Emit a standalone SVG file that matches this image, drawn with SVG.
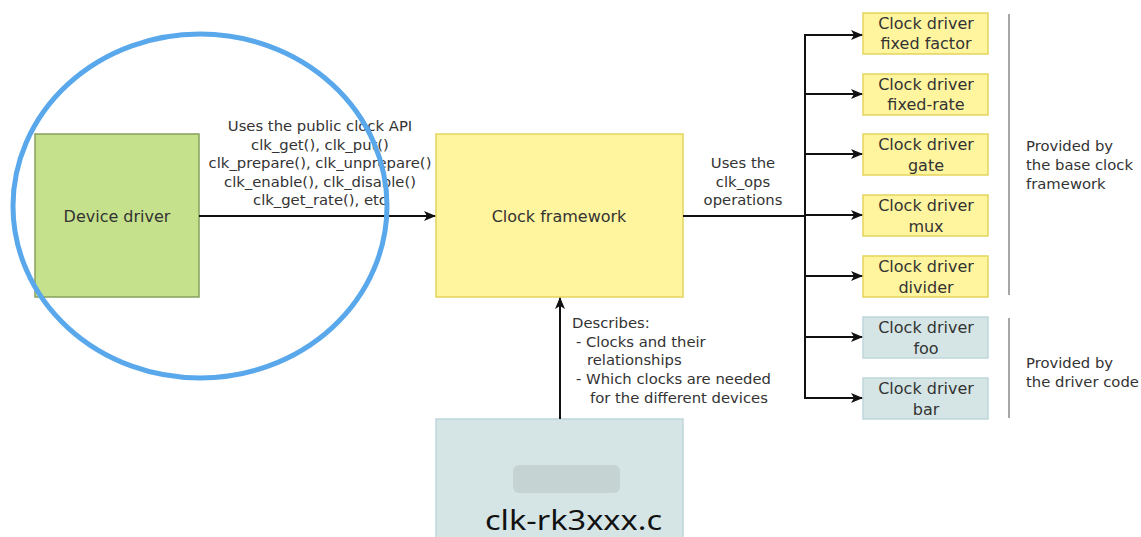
<svg xmlns="http://www.w3.org/2000/svg" width="1141" height="537" viewBox="0 0 1141 537">
<style>
text{font-family:"DejaVu Sans","Liberation Sans",sans-serif;fill:#333}
.lbl{font-size:14.8px}
.box{font-size:16px;text-anchor:middle}
.yel{fill:#fff59e;stroke:#e3d55c;stroke-width:1.5}
.blu{fill:#d5e5e6;stroke:#bfd6da;stroke-width:1.5}
.con{stroke:#111;stroke-width:2;fill:none}
.sep{stroke:#888;stroke-width:1.5}
</style>
<defs>
<marker id="ah" markerWidth="12" markerHeight="10" refX="11" refY="5" orient="auto" markerUnits="userSpaceOnUse">
<path d="M0,0 L12,5 L0,10 L3,5 z" fill="#111"/>
</marker>
</defs>
<rect width="1141" height="537" fill="#fff"/>

<g id="device-driver">
<rect x="35" y="134" width="164" height="163" fill="#c5e18b" stroke="#86a05c" stroke-width="1.5"/>
<text class="box" x="117" y="222">Device driver</text>
</g>

<g id="clock-framework">
<rect x="436" y="134" width="247" height="163" class="yel"/>
<text class="box" x="559" y="222">Clock framework</text>
</g>

<g id="clk-rk3xxx">
<rect x="436" y="419" width="247" height="130" class="blu"/>
<rect x="513" y="465" width="107" height="28" rx="6" fill="#c6d3d3"/>
<text x="485" y="530" style="font-family:'Noto Sans','Open Sans',sans-serif;font-size:28px;fill:#111" textLength="177" lengthAdjust="spacingAndGlyphs">clk-rk3xxx.c</text>
</g>

<g id="drv-fixed-factor">
<rect x="863" y="13" width="125" height="41" class="yel"/>
<text class="box" x="926" y="29">Clock driver</text>
<text class="box" x="926" y="49">fixed factor</text>
</g>
<g id="drv-fixed-rate">
<rect x="863" y="74" width="125" height="41" class="yel"/>
<text class="box" x="926" y="90">Clock driver</text>
<text class="box" x="926" y="110">fixed-rate</text>
</g>
<g id="drv-gate">
<rect x="863" y="134" width="125" height="41" class="yel"/>
<text class="box" x="926" y="150">Clock driver</text>
<text class="box" x="926" y="171">gate</text>
</g>
<g id="drv-mux">
<rect x="863" y="195" width="125" height="41" class="yel"/>
<text class="box" x="926" y="211">Clock driver</text>
<text class="box" x="926" y="232">mux</text>
</g>
<g id="drv-divider">
<rect x="863" y="256" width="125" height="41" class="yel"/>
<text class="box" x="926" y="272">Clock driver</text>
<text class="box" x="926" y="293">divider</text>
</g>
<g id="drv-foo">
<rect x="863" y="317" width="125" height="41" class="blu"/>
<text class="box" x="926" y="333">Clock driver</text>
<text class="box" x="926" y="354">foo</text>
</g>
<g id="drv-bar">
<rect x="863" y="378" width="125" height="41" class="blu"/>
<text class="box" x="926" y="394">Clock driver</text>
<text class="box" x="926" y="415">bar</text>
</g>

<g id="connectors">
<line class="con" x1="199" y1="216" x2="435" y2="216" marker-end="url(#ah)"/>
<line class="con" x1="560" y1="419" x2="560" y2="298" marker-end="url(#ah)"/>
<line class="con" x1="683" y1="216" x2="805" y2="216"/>
<line class="con" x1="805" y1="34" x2="805" y2="399"/>
<line class="con" x1="804" y1="35" x2="862" y2="35" marker-end="url(#ah)"/>
<line class="con" x1="804" y1="94" x2="862" y2="94" marker-end="url(#ah)"/>
<line class="con" x1="804" y1="154" x2="862" y2="154" marker-end="url(#ah)"/>
<line class="con" x1="804" y1="215" x2="862" y2="215" marker-end="url(#ah)"/>
<line class="con" x1="804" y1="276" x2="862" y2="276" marker-end="url(#ah)"/>
<line class="con" x1="804" y1="337" x2="862" y2="337" marker-end="url(#ah)"/>
<line class="con" x1="804" y1="398" x2="862" y2="398" marker-end="url(#ah)"/>
</g>

<g id="labels">
<text class="lbl" text-anchor="middle" x="320" y="131">Uses the public clock API</text>
<text class="lbl" text-anchor="middle" x="320" y="150">clk_get(), clk_put()</text>
<text class="lbl" text-anchor="middle" x="320" y="168">clk_prepare(), clk_unprepare()</text>
<text class="lbl" text-anchor="middle" x="320" y="187">clk_enable(), clk_disable()</text>
<text class="lbl" text-anchor="middle" x="320" y="205">clk_get_rate(), etc</text>

<text class="lbl" text-anchor="middle" x="743" y="168">Uses the</text>
<text class="lbl" text-anchor="middle" x="743" y="187">clk_ops</text>
<text class="lbl" text-anchor="middle" x="743" y="205">operations</text>

<text class="lbl" x="572" y="328">Describes:</text>
<text class="lbl" x="576" y="347">- Clocks and their</text>
<text class="lbl" x="587" y="365">relationships</text>
<text class="lbl" x="576" y="384">- Which clocks are needed</text>
<text class="lbl" x="590" y="403">for the different devices</text>

<text class="lbl" x="1026" y="151">Provided by</text>
<text class="lbl" x="1026" y="170">the base clock</text>
<text class="lbl" x="1026" y="189">framework</text>
<text class="lbl" x="1026" y="368">Provided by</text>
<text class="lbl" x="1026" y="387">the driver code</text>
</g>

<line class="sep" x1="1009" y1="14" x2="1009" y2="295"/>
<line class="sep" x1="1009" y1="318" x2="1009" y2="418"/>

<ellipse id="highlight" cx="200" cy="206" rx="187" ry="172" fill="none" stroke="#5aa8ec" stroke-width="5"/>
</svg>
